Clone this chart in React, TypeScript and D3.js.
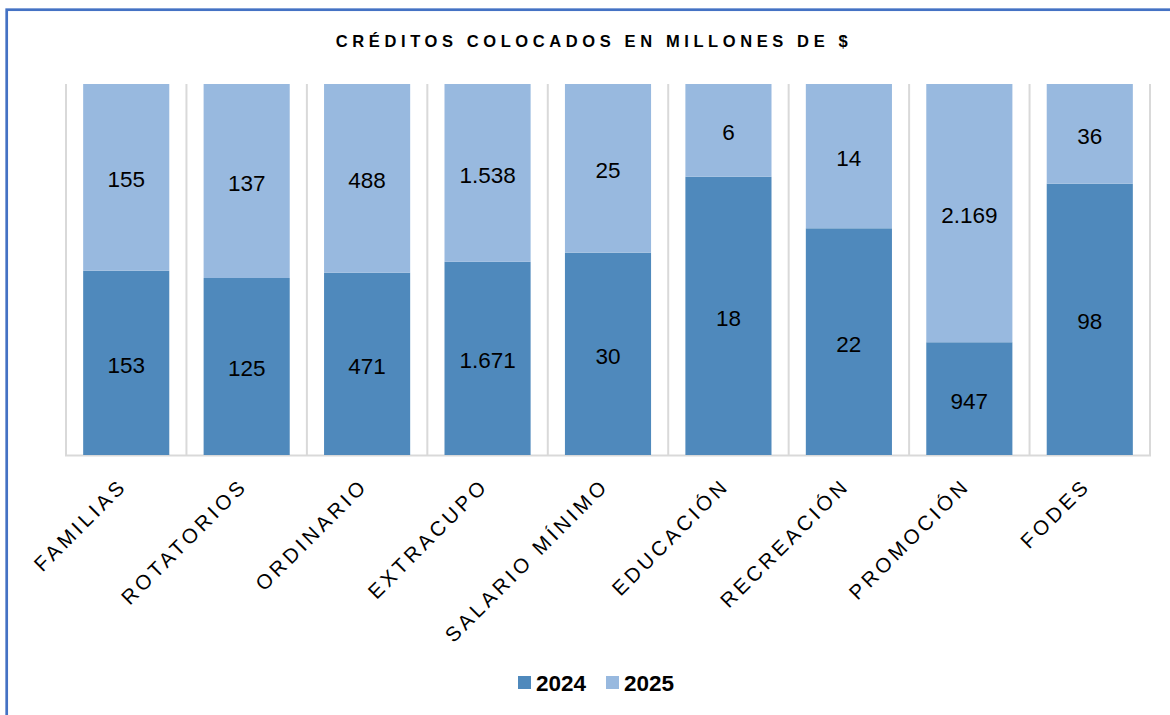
import React from "react";
import * as d3 from "d3";

const categories = [
  "FAMILIAS",
  "ROTATORIOS",
  "ORDINARIO",
  "EXTRACUPO",
  "SALARIO MÍNIMO",
  "EDUCACIÓN",
  "RECREACIÓN",
  "PROMOCIÓN",
  "FODES",
];
const values2024 = [153, 125, 471, 1671, 30, 18, 22, 947, 98];
const values2025 = [155, 137, 488, 1538, 25, 6, 14, 2169, 36];
const seriesNames = ["2024", "2025"];
const seriesColors = ["#4F89BC", "#98B9DF"];
const title = "CRÉDITOS COLOCADOS EN MILLONES DE $";

const W = 1170;
const H = 715;
const FONT = "'Liberation Sans', Arial, Helvetica, sans-serif";

const locale = d3.formatLocale({
  decimal: ",",
  thousands: ".",
  grouping: [3],
  currency: ["$", ""],
});
const fmt = locale.format(",d");

export default function App() {
  const x = d3
    .scaleBand<string>()
    .domain(categories)
    .range([66, 1150])
    .paddingInner(0.285)
    .paddingOuter(0.1425);
  const y = d3.scaleLinear().domain([0, 1]).range([455, 84]);
  const step = x.step();

  const rows = categories.map((c, i) => ({
    cat: c,
    v2024: values2024[i],
    v2025: values2025[i],
  }));
  const stack = d3
    .stack<any>()
    .keys(["v2024", "v2025"])
    .offset(d3.stackOffsetExpand);
  const series = stack(rows);

  const gridXs = d3.range(categories.length + 1).map((i) => 66 + i * step);

  return (
    <svg
      width={W}
      height={H}
      style={{ position: "absolute", left: 0, top: 0, display: "block" }}
      fontFamily={FONT}
    >
      <rect x={0} y={0} width={W} height={H} fill="#ffffff" />
      <rect
        x={6.7}
        y={9.7}
        width={1300}
        height={900}
        fill="none"
        stroke="#4472C4"
        strokeWidth={2.7}
      />
      <text
        x={594}
        y={47}
        textAnchor="middle"
        fontSize={16.5}
        fontWeight="bold"
        letterSpacing={4.6}
        fill="#000"
      >
        {title}
      </text>

      {gridXs.map((gx, i) => (
        <line
          key={"g" + i}
          x1={gx}
          x2={gx}
          y1={84}
          y2={455}
          stroke="#D9D9D9"
          strokeWidth={2}
        />
      ))}
      <line x1={65} x2={1151} y1={455.5} y2={455.5} stroke="#D9D9D9" strokeWidth={2} />

      {series.map((s, si) => (
        <g key={"s" + si}>
          {s.map((d: any, i: number) => {
            const x0 = x(categories[i])!;
            const yTop = y(d[1]);
            const yBot = y(d[0]);
            const val = si === 0 ? values2024[i] : values2025[i];
            return (
              <g key={i}>
                <rect
                  x={x0}
                  y={yTop}
                  width={x.bandwidth()}
                  height={yBot - yTop}
                  fill={seriesColors[si]}
                />
                <text
                  x={x0 + x.bandwidth() / 2}
                  y={(yTop + yBot) / 2 + 10}
                  textAnchor="middle"
                  fontSize={22.5}
                  fill="#000"
                >
                  {fmt(val)}
                </text>
              </g>
            );
          })}
        </g>
      ))}

      {categories.map((c) => {
        const cx = x(c)! + x.bandwidth() / 2;
        return (
          <text
            key={"l" + c}
            transform={`translate(${cx + 2},${487}) rotate(-45)`}
            textAnchor="end"
            fontSize={20.5}
            letterSpacing={3.6}
            fill="#000"
          >
            {c}
          </text>
        );
      })}

      {seriesNames.map((n, i) => {
        const lx = [518, 606][i];
        return (
          <g key={"lg" + i}>
            <rect x={lx} y={676} width={13} height={13} fill={seriesColors[i]} />
            <text x={lx + 18} y={691} fontSize={22.5} fontWeight="bold" fill="#000">
              {n}
            </text>
          </g>
        );
      })}
    </svg>
  );
}
